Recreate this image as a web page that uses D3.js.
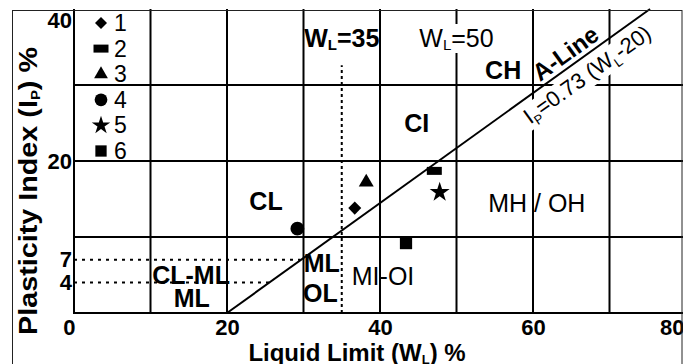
<!DOCTYPE html>
<html><head><meta charset="utf-8">
<script src="https://cdn.jsdelivr.net/npm/d3@7"></script>
<style>
html,body{margin:0;padding:0;background:#fff;}
svg{display:block;font-family:"Liberation Sans",Arial,Helvetica,sans-serif;}
</style></head><body>
<svg id="c" width="693" height="364"></svg>
<script>
// ---------- data ----------
const xTicks = [0, 20, 40, 60, 80];
const yTicks = [40, 20, 7, 4];
const gridX = [0, 10, 20, 30, 40, 50, 60, 70];
const gridY = [0, 10, 20, 30];
const seriesNames = ["1", "2", "3", "4", "5", "6"];
const liquidLimit = [36.7, 47.1, 38.2, 29.2, 47.8, 43.4];
const plasticityIndex = [13.8, 18.7, 17.2, 11.1, 15.9, 9.2];
const aLineWL = [20, 75.3];
const aLineIP = [0, 40];
const dotted7WL = [0, 29.6], dotted7IP = [7, 7];
const dotted4WL = [0, 25.5], dotted4IP = [4, 4];
const dotted35WL = [35, 35], dotted35IP = [0, 32.6];
const zoneLabels = ["CH", "CI", "CL", "MH / OH", "MI-OI", "ML", "OL", "CL-ML", "ML"];
const zoneWL = [56.1, 44.8, 25.1, 60.5, 40.4, 32.4, 32.2, 15.3, 15.4];
const zoneIP = [32.0, 25.0, 14.7, 14.5, 4.9, 6.6, 2.6, 5.0, 2.0];
const limitLabels = ["35", "50"];
const limitWL = [35, 50];

// ---------- setup ----------
const svg = d3.select("#c");
const x = d3.scaleLinear().domain([0, 80]).range([74, 686]);
const y = d3.scaleLinear().domain([0, 40]).range([313, 9]);
const FONT = '"Liberation Sans",Arial,Helvetica,sans-serif';

// grid
const grid = svg.append("g").attr("stroke", "#000").attr("stroke-width", 2);
grid.selectAll("line.v").data(gridX).join("line").attr("class", "v")
  .attr("x1", d => x(d)).attr("x2", d => x(d))
  .attr("y1", y(0) + 1).attr("y2", y(40));
grid.selectAll("line.h").data(gridY).join("line").attr("class", "h")
  .attr("x1", x(0) - 1).attr("x2", x(80))
  .attr("y1", d => y(d)).attr("y2", d => y(d));

// dotted guide lines
const line = d3.line().x(d => x(d[0])).y(d => y(d[1]));
function pts(a, b) { return a.map((v, i) => [v, b[i]]); }
svg.append("path").attr("d", line(pts(dotted7WL, dotted7IP)))
  .attr("stroke", "#000").attr("stroke-width", 2).attr("stroke-dasharray", "3,5").attr("fill", "none");
svg.append("path").attr("d", line(pts(dotted4WL, dotted4IP)))
  .attr("stroke", "#000").attr("stroke-width", 2).attr("stroke-dasharray", "3,5").attr("fill", "none");
svg.append("path").attr("d", line(pts(dotted35WL, dotted35IP)))
  .attr("stroke", "#000").attr("stroke-width", 2).attr("stroke-dasharray", "3,3").attr("fill", "none");

// A-line
svg.append("path").attr("d", line(pts(aLineWL, aLineIP)))
  .attr("stroke", "#000").attr("stroke-width", 2).attr("fill", "none");

const ax0 = x(aLineWL[0]), ay0 = y(aLineIP[0]), ax1 = x(aLineWL[1]), ay1 = y(aLineIP[1]);
const angle = Math.atan2(ay0 - ay1, ax1 - ax0) * 180 / Math.PI;
function onLine(wl) {
  const t = (wl - aLineWL[0]) / (aLineWL[1] - aLineWL[0]);
  return [ax0 + t * (ax1 - ax0), ay0 + t * (ay1 - ay0)];
}

// formula label below A-line (white box)
{
  const p = onLine(57.8);
  const g = svg.append("g").attr("transform", `translate(${p[0]},${p[1]}) rotate(${-angle})`);
  const bg = g.append("rect").attr("fill", "#fff");
  const t = g.append("text").attr("x", 0).attr("y", 24)
    .attr("font-size", 22).attr("font-family", FONT).attr("fill", "#000");
  t.append("tspan").text("I");
  t.append("tspan").text("P").attr("font-size", 13).attr("dy", 5);
  t.append("tspan").text("=0.73 (W").attr("dy", -5);
  t.append("tspan").text("L").attr("font-size", 13).attr("dy", 5);
  t.append("tspan").text("-20)").attr("dy", -5);
  const len = t.node().getComputedTextLength();
  bg.attr("x", -3).attr("y", 5).attr("width", len + 6).attr("height", 25);
}
// A-Line label above
{
  const p = onLine(61.3);
  svg.append("g").attr("transform", `translate(${p[0]},${p[1]}) rotate(${-angle})`)
    .append("text").attr("x", 0).attr("y", -5)
    .attr("font-size", 24).attr("font-weight", "bold").attr("font-family", FONT)
    .text("A-Line");
}

// W_L limit labels
limitWL.forEach((wl, i) => {
  const g = svg.append("g");
  const bg = g.append("rect").attr("fill", "#fff");
  const t = g.append("text").attr("x", x(wl)).attr("y", 47).attr("text-anchor", "middle")
    .attr("font-size", 25).attr("font-family", FONT)
    .attr("font-weight", i === 0 ? "bold" : "normal");
  t.append("tspan").text("W");
  t.append("tspan").text("L").attr("font-size", 15).attr("dy", 3);
  t.append("tspan").text("=" + limitLabels[i]).attr("dy", -3);
  if (i === 1) {
    const bb = t.node().getBBox();
    bg.attr("x", bb.x - 2).attr("y", bb.y).attr("width", bb.width + 4).attr("height", bb.height);
  }
});

// zone labels
const normalZones = new Set(["MH / OH", "MI-OI"]);
svg.append("g").selectAll("text").data(zoneLabels).join("text")
  .attr("x", (d, i) => x(zoneWL[i])).attr("y", (d, i) => y(zoneIP[i]) + 9)
  .attr("text-anchor", "middle").attr("font-size", 25).attr("font-family", FONT)
  .attr("font-weight", d => normalZones.has(d) ? "normal" : "bold")
  .text(d => d);

// markers
const rect2 = { draw(ctx) { ctx.rect(-7.5, -4, 15, 8); } };
const shapes = [
  { type: d3.symbolSquare, size: 85, rot: 45 },
  { type: rect2, size: 1, rot: 0 },
  { type: d3.symbolTriangle, size: 97, rot: 0 },
  { type: d3.symbolCircle, size: 150, rot: 0 },
  { type: d3.symbolStar, size: 124, rot: 0 },
  { type: d3.symbolSquare, size: 150, rot: 0 }
];
svg.append("g").selectAll("path").data(seriesNames).join("path")
  .attr("d", (d, i) => d3.symbol().type(shapes[i].type).size(shapes[i].size)())
  .attr("transform", (d, i) => `translate(${x(liquidLimit[i])},${y(plasticityIndex[i])}) rotate(${shapes[i].rot})`)
  .attr("fill", "#000");

// legend
const leg = svg.append("g");
seriesNames.forEach((n, i) => {
  const cy = 23 + i * 25.6;
  leg.append("path")
    .attr("d", d3.symbol().type(shapes[i].type).size(shapes[i].size * 0.85)())
    .attr("transform", `translate(101,${cy}) rotate(${shapes[i].rot})`).attr("fill", "#000");
  leg.append("text").attr("x", 114).attr("y", cy + 8).attr("font-size", 23)
    .attr("font-family", FONT).text(n);
});

// axes
const xAxis = svg.append("g").attr("transform", `translate(0,${y(0)})`)
  .call(d3.axisBottom(x).tickValues(xTicks).tickSize(0).tickPadding(6).tickFormat(d3.format("d")));
const yAxis = svg.append("g").attr("transform", `translate(${x(0)},0)`)
  .call(d3.axisLeft(y).tickValues(yTicks).tickSize(0).tickPadding(2).tickFormat(d3.format("d")));
[xAxis, yAxis].forEach(a => {
  a.select(".domain").remove();
  a.attr("font-family", FONT).attr("font-size", 22).attr("font-weight", "bold");
  a.selectAll("text").attr("fill", "#000");
});
xAxis.selectAll(".tick text")
  .attr("text-anchor", d => (d === xTicks[0] || d === xTicks[xTicks.length - 1]) ? "end" : "middle")
  .attr("x", d => d === xTicks[0] ? 1 : (d === xTicks[xTicks.length - 1] ? -2 : 0));
yAxis.selectAll(".tick text").attr("y", d => Math.max(0, 20 - y(d)));

// axis titles
{
  const t = svg.append("text").attr("x", 357).attr("y", 361).attr("text-anchor", "middle")
    .attr("font-size", 24).attr("font-weight", "bold").attr("font-family", FONT);
  t.append("tspan").text("Liquid Limit (W");
  t.append("tspan").text("L").attr("font-size", 13).attr("dy", 3);
  t.append("tspan").text(") %").attr("dy", -3);
}
{
  const t = svg.append("text").attr("transform", "translate(37,191) rotate(-90)")
    .attr("text-anchor", "middle").attr("font-size", 25).attr("font-weight", "bold")
    .attr("font-family", FONT).attr("textLength", 288).attr("lengthAdjust", "spacingAndGlyphs");
  t.append("tspan").text("Plasticity Index (I");
  t.append("tspan").text("P").attr("font-size", 13).attr("dy", 3);
  t.append("tspan").text(") %").attr("dy", -3);
}

// right mask + outer frame
svg.append("rect").attr("x", 683).attr("y", 0).attr("width", 10).attr("height", 364).attr("fill", "#fff");
svg.append("rect").attr("x", 12.5).attr("y", 10.5).attr("width", 669.5).attr("height", 400)
  .attr("fill", "none").attr("stroke", "#222").attr("stroke-width", 1);
</script>
</body></html>
